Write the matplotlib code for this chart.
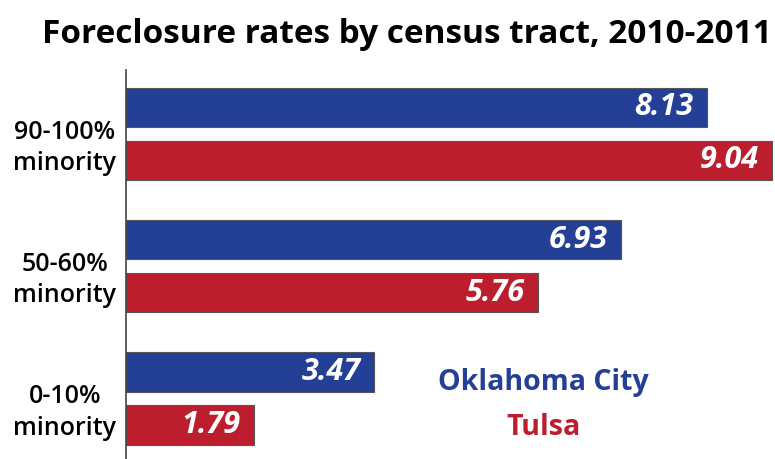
import numpy as np
import matplotlib
matplotlib.use('Agg')
import matplotlib.pyplot as plt

matplotlib.rc('font', family='Open Sans')

groups = ['0-10%\nminority', '50-60%\nminority', '90-100%\nminority']
okc = [3.47, 6.93, 8.13]
tulsa = [1.79, 5.76, 9.04]

blue = '#233f96'
red = '#bd1e2e'

fig = plt.figure(figsize=(7.75, 4.59), dpi=100)
ax = fig.add_axes([126 / 775, 0, 649 / 775, 389 / 459])

ind = np.arange(len(groups))
h = 0.298
b1 = ax.barh(ind + 0.2, okc, h, color=blue, edgecolor='#555555', linewidth=0.8)
b2 = ax.barh(ind - 0.2, tulsa, h, color=red, edgecolor='#555555', linewidth=0.8)

for rects in (b1, b2):
    for r in rects:
        w = r.get_width()
        ax.text(w - 0.19, r.get_y() + r.get_height() / 2, '%.2f' % w,
                ha='right', va='center', color='white', fontsize=22,
                fontweight='bold', style='italic')

ax.set_xlim(0, 9.08)
ax.set_ylim(-0.457, 2.483)
# labels sit a touch below the centre of each pair
ax.set_yticks(ind - 0.06)
ax.set_yticklabels(groups, fontsize=18, fontweight='semibold', ha='center',
                   linespacing=1.32)
ax.tick_params(axis='y', length=0, pad=44)
ax.set_xticks([])
for s in ('top', 'right', 'bottom'):
    ax.spines[s].set_visible(False)
ax.spines['left'].set_color('#444444')
ax.spines['left'].set_linewidth(1.2)

ax.text(5.84, 0.064, 'Oklahoma City', color=blue, fontsize=20.5,
        fontweight='bold', ha='center', va='baseline')
ax.text(5.84, -0.275, 'Tulsa', color=red, fontsize=20.5,
        fontweight='bold', ha='center', va='baseline')

fig.text(0.525, 0.906, 'Foreclosure rates by census tract, 2010-2011',
         ha='center', va='baseline', fontsize=24, fontweight='bold')

plt.savefig('out.png', dpi=100)
